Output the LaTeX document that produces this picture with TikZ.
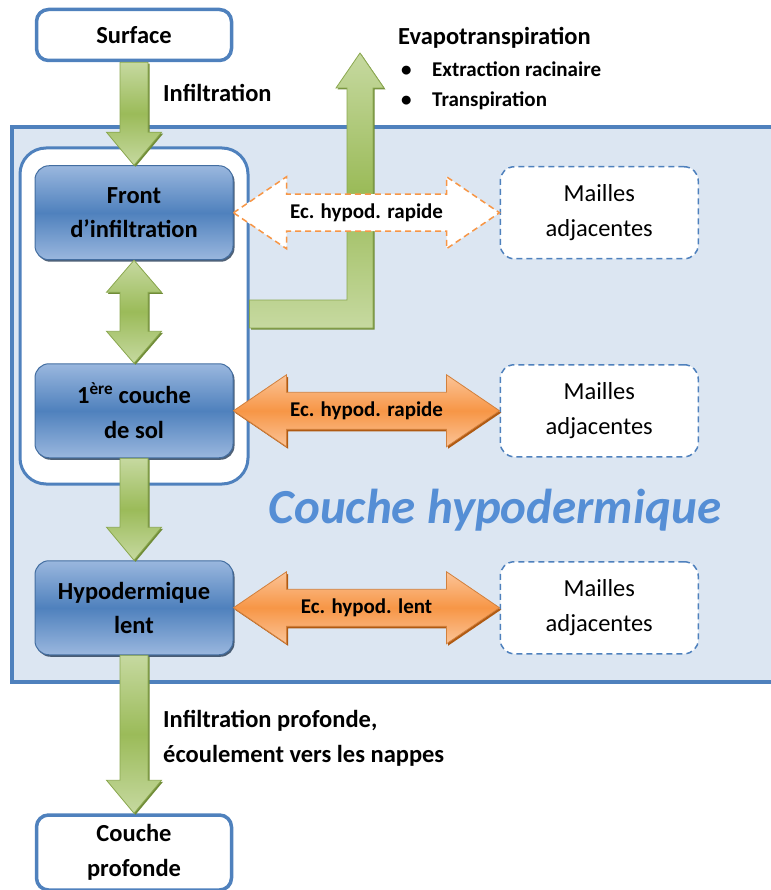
\documentclass[tikz,border=0pt]{standalone}
\usepackage{fontspec}
\setmainfont{Carlito}
\usepackage{tikz}
\usetikzlibrary{positioning, shadows, calc}
\definecolor{bleu}{HTML}{4F81BD}
\definecolor{bleuclair}{HTML}{9AB7DE}
\definecolor{bleufond}{HTML}{DCE6F2}
\definecolor{bleutitre}{HTML}{558ED5}
\definecolor{vertf}{HTML}{9BBB59}
\definecolor{vertclair}{HTML}{C6D9A0}
\definecolor{vertombre}{HTML}{708C38}
\definecolor{orangef}{HTML}{F79646}
\definecolor{orangeclair}{HTML}{FBC498}
\definecolor{orangeombre}{HTML}{B05A12}
\newcommand{\grand}{\fontsize{24.5}{34.5}\selectfont}
\newcommand{\petit}{\fontsize{21}{30}\selectfont}
\tikzstyle{boite}=[%
      rectangle, rounded corners=12pt, draw=bleu, line width=3.5pt, fill=white,
      minimum width=195pt, minimum height=51pt, align=center, font=\grand\bfseries
]
\tikzstyle{bloc}=[%
      rectangle, rounded corners=14pt, draw=bleu!85!black, line width=1pt,
      top color=bleuclair, bottom color=bleuclair, middle color=bleu,
      drop shadow={shadow xshift=1.5pt, shadow yshift=-2pt, fill=bleu!45!black, opacity=0.8},
      minimum width=198pt, minimum height=94pt, align=center, font=\grand\bfseries
]
\tikzstyle{maille}=[%
      rectangle, rounded corners=14pt, draw=bleu, line width=1.5pt, dash pattern=on 6pt off 4pt,
      fill=white, minimum width=198pt, minimum height=92pt, align=center, font=\grand
]
\tikzstyle{zone}=[%
      rectangle, rounded corners=26pt, draw=bleu, line width=3pt, fill=white,
      minimum width=228pt, minimum height=336pt
]
\tikzstyle{fleche verte}=[%
      draw=vertf!90!black, line width=0.8pt,
      top color=vertclair, bottom color=vertclair, middle color=vertf,
      drop shadow={shadow xshift=1.5pt, shadow yshift=-1.5pt, fill=vertombre, opacity=1}
]
\tikzstyle{fleche orange}=[%
      draw=orangef!85!black, line width=0.8pt,
      top color=orangeclair, bottom color=orangeclair, middle color=orangef,
      drop shadow={shadow xshift=1.5pt, shadow yshift=-2pt, fill=orangeombre, opacity=1}
]
\tikzstyle{fleche tiretee}=[%
      draw=orangef, line width=1.5pt, dash pattern=on 6pt off 4pt, fill=white
]
\tikzstyle{texte}=[inner sep=0pt, font=\grand\bfseries]
\tikzstyle{etiq}=[inner sep=0pt, font=\petit\bfseries]

% fleche verte vers le bas : depart, pointe
\newcommand{\flechebas}[2]{%
  \path[fleche verte] let \p1=#1, \p2=#2 in
    (\x1-14pt,\y1) -- (\x1+14pt,\y1) -- (\x1+14pt,\y2+33pt) -- (\x1+27.5pt,\y2+33pt)
    -- (\x1,\y2) -- (\x1-27.5pt,\y2+33pt) -- (\x1-14pt,\y2+33pt) -- cycle;}
% fleche verte double verticale
\newcommand{\flechedeux}[2]{%
  \path[fleche verte] let \p1=#1, \p2=#2 in
    (\x1,\y1) -- (\x1+27.5pt,\y1-32pt) -- (\x1+14pt,\y1-32pt) -- (\x1+14pt,\y2+32pt)
    -- (\x1+27.5pt,\y2+32pt) -- (\x1,\y2) -- (\x1-27.5pt,\y2+32pt) -- (\x1-14pt,\y2+32pt)
    -- (\x1-14pt,\y1-32pt) -- (\x1-27.5pt,\y1-32pt) -- cycle;}
% fleche double horizontale avec son texte
\newcommand{\flechehoriz}[4][fleche orange]{%
  \path[#1] let \p1=#2, \p2=#3 in
    (\x1,\y1) -- (\x1+53pt,\y1+36pt) -- (\x1+53pt,\y1+18.5pt) -- (\x2-53pt,\y1+18.5pt)
    -- (\x2-53pt,\y1+36pt) -- (\x2,\y1) -- (\x2-53pt,\y1-36pt) -- (\x2-53pt,\y1-18.5pt)
    -- (\x1+53pt,\y1-18.5pt) -- (\x1+53pt,\y1-36pt) -- cycle;
  \path #2 -- #3 node[etiq, midway] {#4};}

\begin{document}
\begin{tikzpicture}[x=1pt, y=1pt]
    \useasboundingbox (0,0) rectangle (770,-890);

    % couche hypodermique (fond)
    \draw[bleu, line width=4pt, fill=bleufond] (12,-127) rectangle (800,-682);
    \node[zone] (zone) at (134,-316) {};

    \node[boite]  (surf) at (134,-35)              {Surface};
    \node[bloc]   (front) [below = 103pt of surf]  {Front\\d'infiltration};
    \node[bloc]   (prem)  [below = 103pt of front] {1\textsuperscript{ère} couche\\de sol};
    \node[bloc]   (hypo)  [below = 102pt of prem]  {Hypodermique\\lent};
    \node[boite, minimum height=75pt] (prof) [below = 158pt of hypo] {Couche\\profonde};

    \node[maille] (m1) [right = 266pt of front] {Mailles\\adjacentes};
    \node[maille] (m2) [right = 266pt of prem]  {Mailles\\adjacentes};
    \node[maille] (m3) [right = 266pt of hypo]  {Mailles\\adjacentes};

    % evapotranspiration
    \coordinate (evap) at (360,-53);
    \path[fleche verte] let \p1=(zone.east), \p2=(evap) in
      (\x1,\y1+16pt) -- (\x2-13pt,\y1+16pt) -- (\x2-13pt,\y2-35pt) -- (\x2-24pt,\y2-35pt)
      -- (\x2,\y2) -- (\x2+24pt,\y2-35pt) -- (\x2+13pt,\y2-35pt) -- (\x2+13pt,\y1-12pt)
      -- (\x1,\y1-12pt) -- cycle;

    \flechebas{(surf.south)}{(front.north)}
    \flechedeux{(front.south)}{(prem.north)}
    \flechebas{(prem.south)}{(hypo.north)}
    \flechebas{(hypo.south)}{(prof.north)}

    \flechehoriz[fleche tiretee]{(front.east)}{(m1.west)}{Ec. hypod. rapide}
    \flechehoriz{(prem.east)}{(m2.west)}{Ec. hypod. rapide}
    \flechehoriz{(hypo.east)}{(m3.west)}{Ec. hypod. lent}

    \node[texte, anchor=base west] (infil) at (163,-102) {Infiltration};
    \node[texte, anchor=base west] (evapo) at (398,-45)  {Evapotranspiration};
    \node[etiq, anchor=base west]  (p1)    at (401,-77)  {\makebox[31pt][l]{\textbullet}Extraction racinaire};
    \node[etiq, anchor=base west]  (p2)    at (401,-107) {\makebox[31pt][l]{\textbullet}Transpiration};
    \node[texte, anchor=base west] (nap1)  at (163,-727) {Infiltration profonde,};
    \node[texte, anchor=base west] (nap2)  at (163,-762) {écoulement vers les nappes};

    \node[anchor=base, inner sep=0pt, text=bleutitre, font=\fontsize{49}{58}\selectfont\bfseries\itshape]
      (titre) at (495,-523) {Couche hypodermique};
\end{tikzpicture}
\end{document}
